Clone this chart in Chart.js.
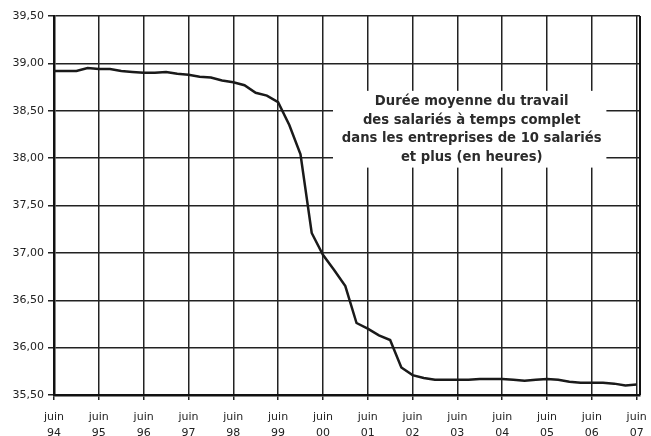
<!DOCTYPE html>
<html>
<head>
<meta charset="utf-8">
<script src="https://cdn.jsdelivr.net/npm/chart.js@4/dist/chart.umd.min.js"></script>
<style>
  body { margin: 0; background: #fff; }
  canvas { display: block; }
</style>
</head>
<body>
<canvas id="chart" width="651" height="436"></canvas>
<script>
// one label per year (june), data is quarterly from juin 94 to juin 07
const years = ['94', '95', '96', '97', '98', '99', '00', '01', '02', '03', '04', '05', '06', '07'];
const hours = [
    38.92, 38.92, 38.92, 38.95, 38.94, 38.94, 38.92, 38.91, 38.90, 38.90,
    38.91, 38.89, 38.88, 38.86, 38.85, 38.82, 38.80, 38.77, 38.69, 38.66,
    38.59, 38.35, 38.04, 37.21, 36.98, 36.82, 36.65, 36.26, 36.20, 36.13,
    36.08, 35.79, 35.71, 35.68, 35.66, 35.66, 35.66, 35.66, 35.67, 35.67,
    35.67, 35.66, 35.65, 35.66, 35.67, 35.66, 35.64, 35.63, 35.63, 35.63,
    35.62, 35.60, 35.61
];
const noteLines = [
    'Durée moyenne du travail',
    'des salariés à temps complet',
    'dans les entreprises de 10 salariés',
    'et plus (en heures)'
];

const FONT = 'DejaVu Sans';
const INK = '#222';

const notePlugin = {
    id: 'note',
    afterDraw(chart) {
        const { ctx, chartArea, scales: { x, y } } = chart;
        ctx.save();
        // right frame line
        ctx.strokeStyle = '#111';
        ctx.lineWidth = 2;
        ctx.beginPath();
        ctx.moveTo(chartArea.right, chartArea.top);
        ctx.lineTo(chartArea.right, chartArea.bottom);
        ctx.stroke();

        // white box behind the note
        const left = x.getPixelForValue(24.9);
        const right = x.getPixelForValue(49.3);
        const top = y.getPixelForValue(38.71);
        const bottom = y.getPixelForValue(37.9);
        ctx.fillStyle = '#fff';
        ctx.fillRect(left, top, right - left, bottom - top);

        ctx.fillStyle = '#2b2b2b';
        ctx.font = 'bold 13.2px "' + FONT + '"';
        ctx.textAlign = 'center';
        ctx.textBaseline = 'alphabetic';
        const cx = (left + right) / 2 + 2;
        noteLines.forEach((line, i) => ctx.fillText(line, cx, top + 14 + i * 18.7));
        ctx.restore();
    }
};

new Chart(document.getElementById('chart'), {
    type: 'line',
    data: {
        datasets: [{
            data: hours.map((v, i) => ({ x: i, y: v })),
            borderColor: '#1a1a1a',
            borderWidth: 2.5,
            pointRadius: 0,
            tension: 0,
        }]
    },
    options: {
        responsive: false,
        animation: false,
        layout: { padding: { top: 16, right: 11, left: 0, bottom: 0 } },
        plugins: {
            legend: { display: false },
            tooltip: { enabled: false },
        },
        scales: {
            x: {
                type: 'linear',
                min: 0,
                max: 52.3,
                afterBuildTicks: (scale) => {
                    scale.ticks = years.map((yr, i) => ({ value: i * 4 }));
                },
                afterFit: (scale) => {
                    scale.height = 41;
                    scale.paddingLeft = 0;
                    scale.paddingRight = 0;
                },
                ticks: {
                    autoSkip: false,
                    maxRotation: 0,
                    padding: 9,
                    color: INK,
                    font: { family: FONT, size: 11, lineHeight: 1.45 },
                    callback: (v) => ['juin', years[Math.round(v / 4)]],
                },
                grid: { color: '#222', lineWidth: 1.5, tickLength: 5 },
                border: { color: '#111', width: 2.5 },
            },
            y: {
                min: 35.5,
                max: 39.5,
                afterFit: (scale) => {
                    scale.width = 54;
                    scale.paddingTop = 0;
                    scale.paddingBottom = 0;
                },
                ticks: {
                    stepSize: 0.5,
                    padding: 4,
                    color: INK,
                    font: { family: FONT, size: 11 },
                    callback: (v) => v.toFixed(2).replace('.', ','),
                },
                grid: { color: '#222', lineWidth: 1.5, tickLength: 6 },
                border: { color: '#111', width: 2.5 },
            }
        }
    },
    plugins: [notePlugin]
});
</script>
</body>
</html>
